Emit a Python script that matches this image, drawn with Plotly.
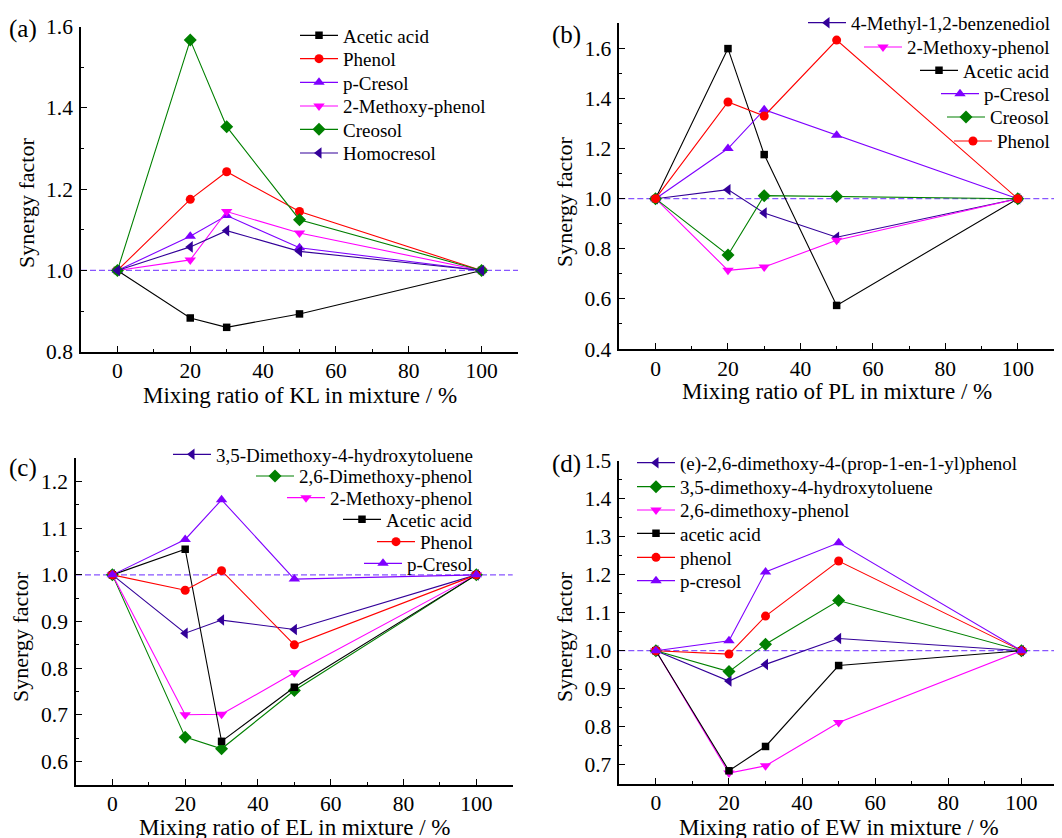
import plotly.graph_objects as go

W, H = 1062, 838
FONT = "Liberation Serif"
OFF = 8  # page body margin of the browser

# ---------------- data ----------------
MIX = [0, 20, 30, 50, 100]

# (a) KL
KL_ACETIC = [1.0, 0.883, 0.860, 0.893, 1.0]
KL_PHENOL = [1.0, 1.175, 1.243, 1.145, 1.0]
KL_PCRESOL = [1.0, 1.084, 1.135, 1.056, 1.0]
KL_GUAIACOL = [1.0, 1.026, 1.145, 1.092, 1.0]
KL_CREOSOL = [1.0, 1.567, 1.354, 1.125, 1.0]
KL_HOMOCRESOL = [1.0, 1.058, 1.098, 1.047, 1.0]

# (b) PL
PL_METHYLCATECHOL = [1.0, 1.036, 0.943, 0.846, 1.0]
PL_GUAIACOL = [1.0, 0.714, 0.727, 0.834, 1.0]
PL_ACETIC = [1.0, 1.599, 1.176, 0.574, 1.0]
PL_PCRESOL = [1.0, 1.200, 1.355, 1.253, 1.0]
PL_CREOSOL = [1.0, 0.775, 1.012, 1.009, 1.0]
PL_PHENOL = [1.0, 1.386, 1.330, 1.633, 1.0]

# (c) EL
EL_DMHT = [1.0, 0.875, 0.903, 0.883, 1.0]
EL_SYRINGOL = [1.0, 0.652, 0.627, 0.752, 1.0]
EL_GUAIACOL = [1.0, 0.700, 0.701, 0.790, 1.0]
EL_ACETIC = [1.0, 1.055, 0.643, 0.759, 1.0]
EL_PHENOL = [1.0, 0.967, 1.009, 0.850, 1.0]
EL_PCRESOL = [1.0, 1.076, 1.161, 0.991, 1.0]

# (d) EW
EW_PROPENYLSYRINGOL = [1.0, 0.920, 0.964, 1.032, 1.0]
EW_DMHT = [1.0, 0.945, 1.017, 1.132, 1.0]
EW_SYRINGOL = [1.0, 0.678, 0.697, 0.811, 1.0]
EW_ACETIC = [1.0, 0.684, 0.748, 0.961, 1.0]
EW_PHENOL = [1.0, 0.991, 1.091, 1.236, 1.0]
EW_PCRESOL = [1.0, 1.026, 1.207, 1.284, 1.0]

X_TICKS = [0, 20, 40, 60, 80, 100]
REF_LEVEL = 1.0

# ---------------- styles ----------------
BLACK, RED, VIOLET = "#000000", "#ff0000", "#7f00ff"
MAGENTA, GREEN, INDIGO = "#ff00ff", "#008000", "#330099"
STY = {
    "sq": (BLACK, "square", 7.5),
    "ci": (RED, "circle", 9),
    "tu": (VIOLET, "triangle-up", 10),
    "td": (MAGENTA, "triangle-down", 10),
    "di": (GREEN, "diamond", 10),
    "tl": (INDIGO, "triangle-left", 10),
}

PANELS = [
    dict(tag="(a)", xtitle="Mixing ratio of KL in mixture / %",
         xpx=(81, 518), ypx=(26.7, 351.7), yr=(0.8, 1.6), dt=0.2,
         leg_align="left", leg_x=300, leg_y=[36, 59.3, 83, 106.7, 130, 153.7],
         series=[("Acetic acid", KL_ACETIC, STY["sq"]),
                 ("Phenol", KL_PHENOL, STY["ci"]),
                 ("p-Cresol", KL_PCRESOL, STY["tu"]),
                 ("2-Methoxy-phenol", KL_GUAIACOL, STY["td"]),
                 ("Creosol", KL_CREOSOL, STY["di"]),
                 ("Homocresol", KL_HOMOCRESOL, STY["tl"])],
         tagxy=(23, 29), ytxy=(26, 203), xtxy=(300, 395)),
    dict(tag="(b)", xtitle="Mixing ratio of PL in mixture / %",
         xpx=(619.3, 1054), ypx=(23.3, 349), yr=(0.4, 1.7), dt=0.2,
         leg_align="right", leg_x=1050, leg_y=[23.3, 47.7, 71, 94.3, 117.7, 141.7],
         series=[("4-Methyl-1,2-benzenediol", PL_METHYLCATECHOL, STY["tl"]),
                 ("2-Methoxy-phenol", PL_GUAIACOL, STY["td"]),
                 ("Acetic acid", PL_ACETIC, STY["sq"]),
                 ("p-Cresol", PL_PCRESOL, STY["tu"]),
                 ("Creosol", PL_CREOSOL, STY["di"]),
                 ("Phenol", PL_PHENOL, STY["ci"])],
         tagxy=(566, 35), ytxy=(564, 202), xtxy=(837, 392)),
    dict(tag="(c)", xtitle="Mixing ratio of EL in mixture / %",
         xpx=(76, 512.7), ypx=(458.3, 784.7), yr=(0.55, 1.25), dt=0.1,
         leg_align="right", leg_x=473, leg_y=[455, 476.7, 498.3, 520, 542.3, 564],
         series=[("3,5-Dimethoxy-4-hydroxytoluene", EL_DMHT, STY["tl"]),
                 ("2,6-Dimethoxy-phenol", EL_SYRINGOL, STY["di"]),
                 ("2-Methoxy-phenol", EL_GUAIACOL, STY["td"]),
                 ("Acetic acid", EL_ACETIC, STY["sq"]),
                 ("Phenol", EL_PHENOL, STY["ci"]),
                 ("p-Cresol", EL_PCRESOL, STY["tu"])],
         tagxy=(23, 468), ytxy=(20, 637), xtxy=(295, 827)),
    dict(tag="(d)", xtitle="Mixing ratio of EW in mixture / %",
         xpx=(619.3, 1058), ypx=(460.7, 783.7), yr=(0.65, 1.5), dt=0.1,
         leg_align="left", leg_x=637, leg_y=[463.3, 487.3, 510.7, 534, 558, 581.3],
         series=[("(e)-2,6-dimethoxy-4-(prop-1-en-1-yl)phenol", EW_PROPENYLSYRINGOL, STY["tl"]),
                 ("3,5-dimethoxy-4-hydroxytoluene", EW_DMHT, STY["di"]),
                 ("2,6-dimethoxy-phenol", EW_SYRINGOL, STY["td"]),
                 ("acetic acid", EW_ACETIC, STY["sq"]),
                 ("phenol", EW_PHENOL, STY["ci"]),
                 ("p-cresol", EW_PCRESOL, STY["tu"])],
         tagxy=(566, 464), ytxy=(564, 637), xtxy=(839, 827)),
]


def fx(px):
    return (px - OFF) / W


def fy(py):
    return 1 - (py - OFF) / H


fig = go.Figure()
layout = dict(width=W, height=H,
              margin=dict(l=0, r=0, t=0, b=0, autoexpand=False),
              paper_bgcolor="white", plot_bgcolor="white",
              font=dict(family=FONT, color="black"), showlegend=True)
annotations, shapes = [], []
leg_count = 0

for i, p in enumerate(PANELS, start=1):
    sfx = "" if i == 1 else str(i)
    xa, ya = f"xaxis{sfx}", f"yaxis{sfx}"
    xr, yr_ = f"x{sfx}", f"y{sfx}"
    x0, x1 = p["xpx"]
    y0, y1 = p["ypx"]
    common = dict(showline=True, linecolor="black", linewidth=1.5, mirror=False,
                  showgrid=False, zeroline=False, ticks="inside", ticklen=6,
                  tickwidth=1.3, tickcolor="black", automargin=False,
                  tickfont=dict(family=FONT, size=21.5, color="black"))
    layout[xa] = dict(common, domain=[fx(x0), fx(x1)], range=[-10, 110],
                      anchor=yr_, tickvals=X_TICKS, ticklabelstandoff=-1,
                      minor=dict(ticks="inside", ticklen=3, tickwidth=1.2,
                                 tickcolor="black", tick0=0, dtick=10))
    layout[ya] = dict(common, domain=[fy(y1), fy(y0)], range=list(p["yr"]),
                      anchor=xr, tick0=0, dtick=p["dt"], tickformat=".1f",
                      ticklabelstandoff=2,
                      minor=dict(ticks="inside", ticklen=3, tickwidth=1.2,
                                 tickcolor="black", tick0=0, dtick=p["dt"] / 2))
    shapes.append(dict(type="line", xref=f"{xr} domain", yref=yr_, x0=0, x1=1.0,
                       y0=REF_LEVEL, y1=REF_LEVEL,
                       line=dict(color="#8855ff", width=1.3, dash="6px,3px"),
                       layer="below"))
    for j, (name, vals, (col, sym, size)) in enumerate(p["series"]):
        leg_count += 1
        lname = "legend" if leg_count == 1 else f"legend{leg_count}"
        fig.add_trace(go.Scatter(
            x=MIX, y=vals, name=name, mode="lines+markers",
            line=dict(color=col, width=1.1),
            marker=dict(color=col, symbol=sym, size=size, line=dict(width=0)),
            xaxis=xr, yaxis=yr_, legend=lname, showlegend=True, cliponaxis=False))
        ly = 1 - (p["leg_y"][j] - 8.5) / H
        if p["leg_align"] == "left":
            lx, xanc = (p["leg_x"] - 13) / W, "left"
        else:
            lx, xanc = (p["leg_x"] - 3) / W, "right"
        layout[lname] = dict(x=lx, y=ly, xanchor=xanc, yanchor="middle",
                             bgcolor="rgba(0,0,0,0)", borderwidth=0,
                             itemwidth=38,
                             font=dict(family=FONT, size=19, color="black"))
    tx, ty = p["tagxy"]
    annotations.append(dict(text=p["tag"], x=fx(tx), y=fy(ty), xref="paper",
                            yref="paper", showarrow=False, xanchor="center",
                            yanchor="middle", font=dict(family=FONT, size=25)))
    yx, yy = p["ytxy"]
    annotations.append(dict(text="Synergy factor", x=fx(yx), y=fy(yy),
                            xref="paper", yref="paper", showarrow=False,
                            textangle=-90, xanchor="center", yanchor="middle",
                            font=dict(family=FONT, size=22)))
    xx, xy = p["xtxy"]
    annotations.append(dict(text=p["xtitle"], x=fx(xx), y=fy(xy),
                            xref="paper", yref="paper", showarrow=False,
                            xanchor="center", yanchor="middle",
                            font=dict(family=FONT, size=23)))

layout["annotations"] = annotations
layout["shapes"] = shapes
fig.update_layout(**layout)
fig.write_html("out.html")
